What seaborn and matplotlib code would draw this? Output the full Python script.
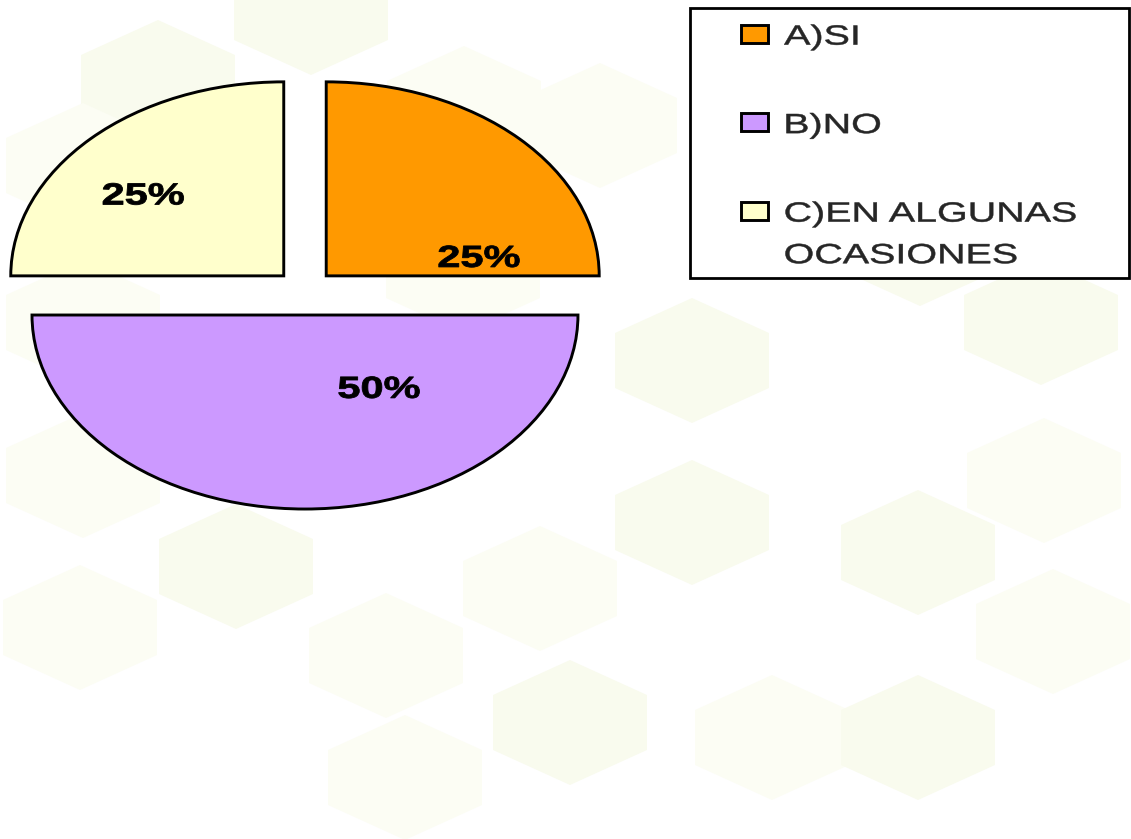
import matplotlib
matplotlib.use("Agg")
import matplotlib.pyplot as plt
import seaborn as sns
import pandas as pd
from matplotlib.patches import Polygon, Rectangle
from matplotlib.patheffects import AbstractPathEffect
from matplotlib.transforms import Affine2D
from matplotlib.legend_handler import HandlerPatch

# ---------------- data ----------------
categories = ["A)SI", "B)NO", "C)EN ALGUNAS\nOCASIONES"]
percent = [25, 50, 25]
colors = ["#FF9900", "#CC99FF", "#FFFFCC"]
explode = [0.11, 0.124, 0.11]
# label anchor positions (pie data units) for SI, NO, EN ALGUNAS
label_xy = [(0.637, 0.165), (0.271, -0.51), (-0.593, 0.487)]

sns.set_theme(style="white")
plt.rcParams["font.family"] = ["Liberation Sans", "DejaVu Sans"]


class HStretch(AbstractPathEffect):
    """Horizontally widen glyphs (the source image is stretched)."""

    def __init__(self, sx=1.4, anchor="left", stroke=0.0):
        super().__init__()
        self.sx = sx
        self.anchor = anchor
        self.stroke = stroke

    def draw_path(self, renderer, gc, tpath, affine, rgbFace=None):
        ext = tpath.get_extents(affine)
        cx = ext.x0 if self.anchor == "left" else 0.5 * (ext.x0 + ext.x1)
        t = affine + Affine2D().translate(-cx, 0).scale(self.sx, 1.0).translate(cx, 0)
        gc0 = renderer.new_gc()
        gc0.copy_properties(gc)
        if self.stroke > 0 and rgbFace is not None:
            gc0.set_linewidth(self.stroke)
            gc0.set_foreground(rgbFace)
            gc0.set_joinstyle("round")
        renderer.draw_path(gc0, tpath, t, rgbFace)
        gc0.restore()


fig = plt.figure(figsize=(11.31, 8.39), dpi=100)
fig.patch.set_facecolor("white")

# ---------------- decorative hexagon background ----------------
bg = fig.add_axes([0, 0, 1, 1], zorder=0)
bg.set_xlim(0, 1131)
bg.set_ylim(839, 0)
bg.axis("off")
L, D = "#FCFDF4", "#F9FBEE"
hexes = [
    (158, 82, D), (311, 12, D), (464, 108, L), (600, 125, L), (83, 165, L),
    (83, 322, L), (83, 475, L), (236, 410, L), (236, 566, D), (80, 627, L),
    (386, 655, L), (405, 777, L), (540, 588, L), (570, 722, D), (692, 522, D),
    (692, 360, D), (772, 737, L), (918, 737, D), (918, 552, D), (920, 243, D),
    (1041, 322, D), (1044, 480, L), (1053, 631, L), (463, 270, L),
]
for cx, cy, shade in hexes:
    verts = [(cx, cy - 62), (cx + 77, cy - 27), (cx + 77, cy + 28),
             (cx, cy + 63), (cx - 77, cy + 28), (cx - 77, cy - 27)]
    bg.add_patch(Polygon(verts, closed=True, facecolor=shade, edgecolor="none"))

# legend frame (box drawn behind the legend entries)
bg.add_patch(Rectangle((690, 8), 439, 270, facecolor="white",
                       edgecolor="black", linewidth=2.0, zorder=5))

# ---------------- pie ----------------
df = pd.DataFrame({"categoria": categories, "porcentaje": percent})
palette = sns.color_palette(colors)

ax = fig.add_axes([0.00416, 0.3526, 0.5310, 0.5781], zorder=1)
wedges, texts, autotexts = ax.pie(
    df["porcentaje"], explode=explode, colors=palette, startangle=90,
    counterclock=False, autopct="%1.0f%%",
    wedgeprops=dict(edgecolor="black", linewidth=2.1),
    textprops=dict(fontsize=22, fontweight="bold", color="black"),
)
ax.set_aspect("auto")
ax.set_xlim(-1.1, 1.1)
ax.set_ylim(-1.3, 1.2)
ax.patch.set_visible(False)
for t, xy in zip(autotexts, label_xy):
    t.set_position(xy)
    t.set_ha("center")
    t.set_va("center")
    t.set_path_effects([HStretch(1.36, "center", stroke=0.6)])


# ---------------- legend ----------------
def make_handler(shift_pt):
    def patch_func(legend, orig_handle, xdescent, ydescent, width, height, fontsize):
        w, h = 19.4, 13.0
        return Rectangle((width - xdescent - w, 1.4 + shift_pt), w, h)
    return HandlerPatch(patch_func=patch_func)


handler_map = {wedges[0]: make_handler(0), wedges[1]: make_handler(0),
               wedges[2]: make_handler(17.0)}
leg = ax.legend(
    wedges, list(df["categoria"]), handler_map=handler_map, loc="upper left",
    bbox_to_anchor=(690 / 1131, 1 - 11 / 839), bbox_transform=fig.transFigure,
    borderaxespad=0, borderpad=0.49, labelspacing=2.25, handlelength=2.32,
    handleheight=0.7, handletextpad=0.58, fontsize=20, frameon=False,
)
for t in leg.get_texts():
    t.set_linespacing(1.78)
    t.set_path_effects([HStretch(1.42, "left", stroke=0.35)])

fig.savefig("out.png", dpi=100, facecolor="white")
